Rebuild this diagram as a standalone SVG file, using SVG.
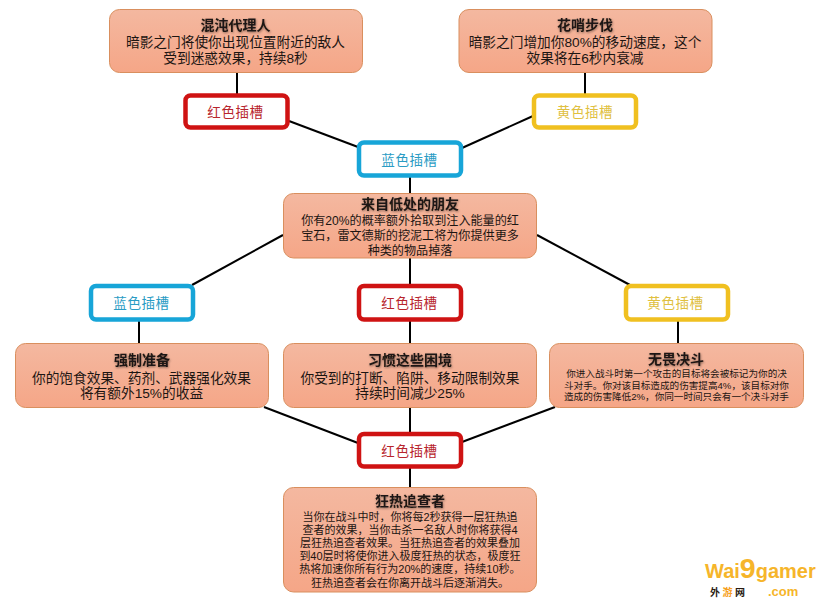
<svg xmlns="http://www.w3.org/2000/svg" width="823" height="601" viewBox="0 0 823 601">
<style>
text{font-family:"Liberation Sans","Noto Sans CJK SC",sans-serif;text-anchor:middle;fill:#1c1512}
.card{fill:url(#cardFill);stroke:#d98f5e;stroke-width:1}
.title{font-size:14px;font-weight:700;filter:url(#soft)}
.b13{font-size:13.7px}
.b12{font-size:12.1px}
.b11{font-size:11px}
.b10{font-size:9.6px}
.slot{fill:#fff;stroke-width:4.5}
.slotText{font-size:13.5px;letter-spacing:.6px}
.red rect{stroke:#cf1313}.red text{fill:#b8252c}
.blue rect{stroke:#17a5d8}.blue text{fill:#2a9cc4}
.yellow rect{stroke:#f0c020}.yellow text{fill:#e0c040}
#connectors line{stroke:#000;stroke-width:2;fill:none}
#watermark text{text-anchor:start;font-weight:700;fill:#f6b52a}
#watermark .cn{fill:#2a1a10;font-size:10px;letter-spacing:2.5px}
</style>
<defs>
<linearGradient id="cardFill" x1="0" y1="0" x2="0" y2="1">
<stop offset="0" stop-color="#f4b8a0"/><stop offset="1" stop-color="#f5a687"/>
</linearGradient>
<filter id="soft" x="-10%" y="-20%" width="120%" height="150%">
<feDropShadow dx="0.5" dy="1" stdDeviation="0.8" flood-color="#000" flood-opacity=".45"/>
</filter>
</defs>
<rect width="823" height="601" fill="#fff"/>
<g id="connectors">
<line x1="237" y1="72" x2="237" y2="95"/>
<line x1="585" y1="72" x2="585" y2="95"/>
<line x1="289" y1="121" x2="358" y2="147"/>
<line x1="533" y1="116" x2="462" y2="148"/>
<line x1="410" y1="177" x2="410" y2="193"/>
<line x1="283" y1="235" x2="192" y2="285"/>
<line x1="537" y1="235" x2="630" y2="285"/>
<line x1="410" y1="258" x2="410" y2="285"/>
<line x1="139" y1="320" x2="139" y2="343"/>
<line x1="410" y1="320" x2="410" y2="343"/>
<line x1="678" y1="320" x2="678" y2="343"/>
<line x1="264" y1="407" x2="358" y2="443"/>
<line x1="555" y1="407" x2="462" y2="442"/>
<line x1="410" y1="408" x2="410" y2="432"/>
<line x1="410" y1="468" x2="410" y2="487"/>
</g>
<g id="node-hundun"><rect class="card" x="109.5" y="9.5" width="253" height="63" rx="10"/>
<text class="title" x="235.5" y="30">混沌代理人</text>
<text class="b13" x="235.5" y="47">暗影之门将使你出现位置附近的敌人</text>
<text class="b13" x="235.5" y="63">受到迷惑效果，持续8秒</text></g>
<g id="node-huashao"><rect class="card" x="459" y="9.5" width="253" height="63" rx="10"/>
<text class="title" x="585" y="30">花哨步伐</text>
<text class="b13" x="585" y="47">暗影之门增加你80%的移动速度，这个</text>
<text class="b13" x="585" y="63">效果将在6秒内衰减</text></g>
<g id="slot-red-1" class="red"><rect class="slot" x="185.5" y="95.5" width="102" height="32" rx="5"/><text class="slotText" x="235.5" y="117">红色插槽</text></g>
<g id="slot-yellow-1" class="yellow"><rect class="slot" x="534" y="95.5" width="102" height="32" rx="5"/><text class="slotText" x="585" y="117">黄色插槽</text></g>
<g id="slot-blue-1" class="blue"><rect class="slot" x="359" y="142.5" width="102" height="33" rx="5"/><text class="slotText" x="409.5" y="165">蓝色插槽</text></g>
<g id="node-friend"><rect class="card" x="283.5" y="193.5" width="253" height="64.5" rx="10"/>
<text class="title" x="410" y="209">来自低处的朋友</text>
<text class="b12" x="410" y="224.5">你有20%的概率额外拾取到注入能量的红</text>
<text class="b12" x="410" y="239.5">宝石，雷文德斯的挖泥工将为你提供更多</text>
<text class="b12" x="410" y="254.5">种类的物品掉落</text></g>
<g id="slot-blue-2" class="blue"><rect class="slot" x="91" y="286" width="102" height="33.5" rx="5"/><text class="slotText" x="141.5" y="308">蓝色插槽</text></g>
<g id="slot-red-2" class="red"><rect class="slot" x="359" y="286" width="102" height="33.5" rx="5"/><text class="slotText" x="409.5" y="308">红色插槽</text></g>
<g id="slot-yellow-2" class="yellow"><rect class="slot" x="626" y="286" width="102" height="33.5" rx="5"/><text class="slotText" x="675.5" y="308">黄色插槽</text></g>
<g id="node-qiangzhi"><rect class="card" x="15.5" y="343.5" width="253" height="64" rx="10"/>
<text class="title" x="142" y="365">强制准备</text>
<text class="b13" x="141.5" y="383">你的饱食效果、药剂、武器强化效果</text>
<text class="b13" x="141.5" y="398">将有额外15%的收益</text></g>
<g id="node-xiguan"><rect class="card" x="283.5" y="343.5" width="253" height="64" rx="10"/>
<text class="title" x="410" y="365">习惯这些困境</text>
<text class="b13" x="410" y="383">你受到的打断、陷阱、移动限制效果</text>
<text class="b13" x="410" y="398">持续时间减少25%</text></g>
<g id="node-wuwei"><rect class="card" x="549.5" y="343.5" width="254" height="64" rx="10"/>
<text class="title" x="676" y="364">无畏决斗</text>
<text class="b10" x="676.5" y="377">你进入战斗时第一个攻击的目标将会被标记为你的决</text>
<text class="b10" x="676.5" y="388.5">斗对手。你对该目标造成的伤害提高4%，该目标对你</text>
<text class="b10" x="676.5" y="400">造成的伤害降低2%，你同一时间只会有一个决斗对手</text></g>
<g id="slot-red-3" class="red"><rect class="slot" x="359" y="434" width="102" height="32.5" rx="5"/><text class="slotText" x="409.5" y="456">红色插槽</text></g>
<g id="node-kuangre"><rect class="card" x="283.5" y="487.5" width="253" height="104.5" rx="10"/>
<text class="title" x="410" y="506">狂热追查者</text>
<text class="b11" x="410" y="521">当你在战斗中时，你将每2秒获得一层狂热追</text>
<text class="b11" x="410" y="534">查者的效果，当你击杀一名敌人时你将获得4</text>
<text class="b11" x="410" y="547">层狂热追查者效果。当狂热追查者的效果叠加</text>
<text class="b11" x="410" y="560">到40层时将使你进入极度狂热的状态，极度狂</text>
<text class="b11" x="410" y="573">热将加速你所有行为20%的速度，持续10秒。</text>
<text class="b11" x="410" y="586.5">狂热追查者会在你离开战斗后逐渐消失。</text></g>
<g id="watermark">
<text x="705" y="578" style="font-size:20px">Wai<tspan font-size="28.5">9</tspan>gamer</text>
<text x="768" y="596" style="font-size:13px">.com</text>
<text class="cn" x="710" y="596">外<tspan fill="#f6a020">游</tspan>网</text>
</g>
</svg>
